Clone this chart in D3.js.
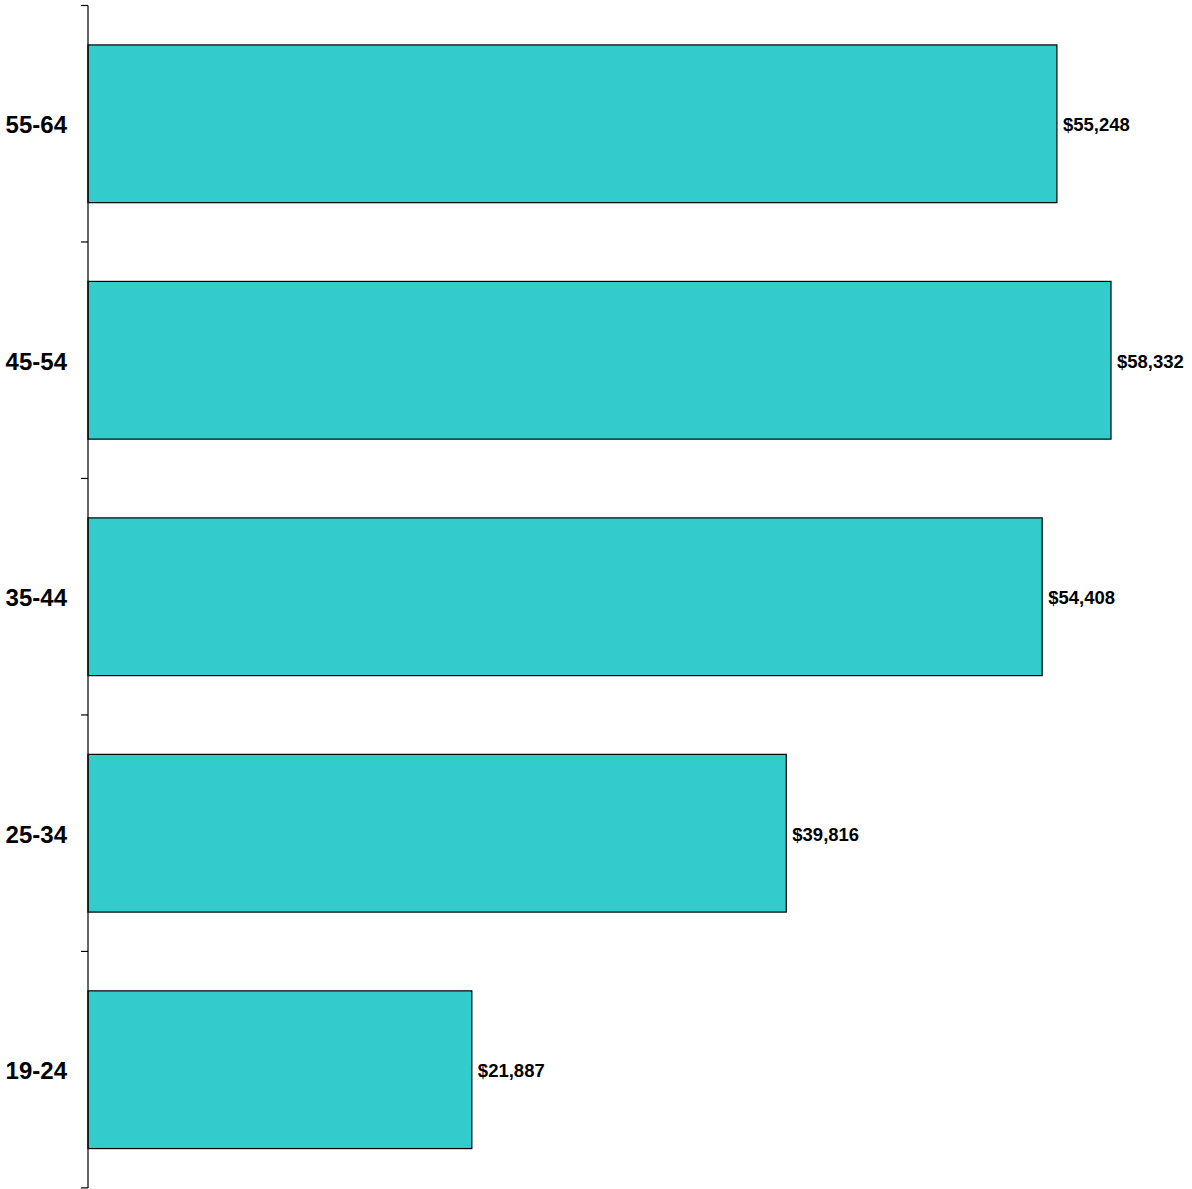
<!DOCTYPE html>
<html>
<head>
<meta charset="utf-8">
<script src="https://cdn.jsdelivr.net/npm/d3@7"></script>
<style>
  body { margin: 0; background: #fff; }
  svg { display: block; }
</style>
</head>
<body>
<svg id="chart" width="1192" height="1189"></svg>
<script>
// age groups, top to bottom
const categories = ["55-64", "45-54", "35-44", "25-34", "19-24"];
const values = [55248, 58332, 54408, 39816, 21887];

const svg = d3.select("#chart");
const marginLeft = 88, axisTop = 5.5, axisBottom = 1188;

const x = d3.scaleLinear()
  .domain([0, d3.max(values)])
  .range([marginLeft, 1111]);

const y = d3.scaleBand()
  .domain(categories)
  .range([axisTop, axisBottom])
  .paddingInner(0.333)
  .paddingOuter(0.1667);

// bars
svg.selectAll("rect.bar")
  .data(values)
  .enter()
  .append("rect")
  .attr("class", "bar")
  .attr("x", x(0))
  .attr("y", (d, i) => y(categories[i]))
  .attr("width", d => x(d) - x(0))
  .attr("height", y.bandwidth())
  .style("fill", "#33cccc")
  .style("stroke", "#000")
  .style("stroke-width", 1.2);

// value labels
const fmt = d3.format("$,");
svg.selectAll("text.val")
  .data(values)
  .enter()
  .append("text")
  .attr("class", "val")
  .attr("x", d => x(d) + 6)
  .attr("y", (d, i) => y(categories[i]) + y.bandwidth() / 2 + 1)
  .attr("dy", "0.35em")
  .style("font-family", "Liberation Sans, Arial, sans-serif")
  .style("font-weight", "bold")
  .style("font-size", "18.5px")
  .text(d => fmt(d));

// category axis, ticks sit between bands
const yAxis = svg.append("g");
yAxis.append("line")
  .attr("x1", marginLeft).attr("x2", marginLeft)
  .attr("y1", axisTop).attr("y2", axisBottom)
  .style("stroke", "#000").style("stroke-width", 1.2);

const step = y.step();
const tickYs = d3.range(categories.length + 1).map(i => axisTop + i * step);
yAxis.selectAll("line.tick")
  .data(tickYs)
  .enter()
  .append("line")
  .attr("class", "tick")
  .attr("x1", marginLeft - 7).attr("x2", marginLeft)
  .attr("y1", d => d).attr("y2", d => d)
  .style("stroke", "#000").style("stroke-width", 1.2);

yAxis.selectAll("text.cat")
  .data(categories)
  .enter()
  .append("text")
  .attr("class", "cat")
  .attr("x", 67)
  .attr("y", d => y(d) + y.bandwidth() / 2 + 1)
  .attr("dy", "0.35em")
  .attr("text-anchor", "end")
  .style("font-family", "Liberation Sans, Arial, sans-serif")
  .style("font-weight", "bold")
  .style("font-size", "24px")
  .text(d => d);
</script>
</body>
</html>
